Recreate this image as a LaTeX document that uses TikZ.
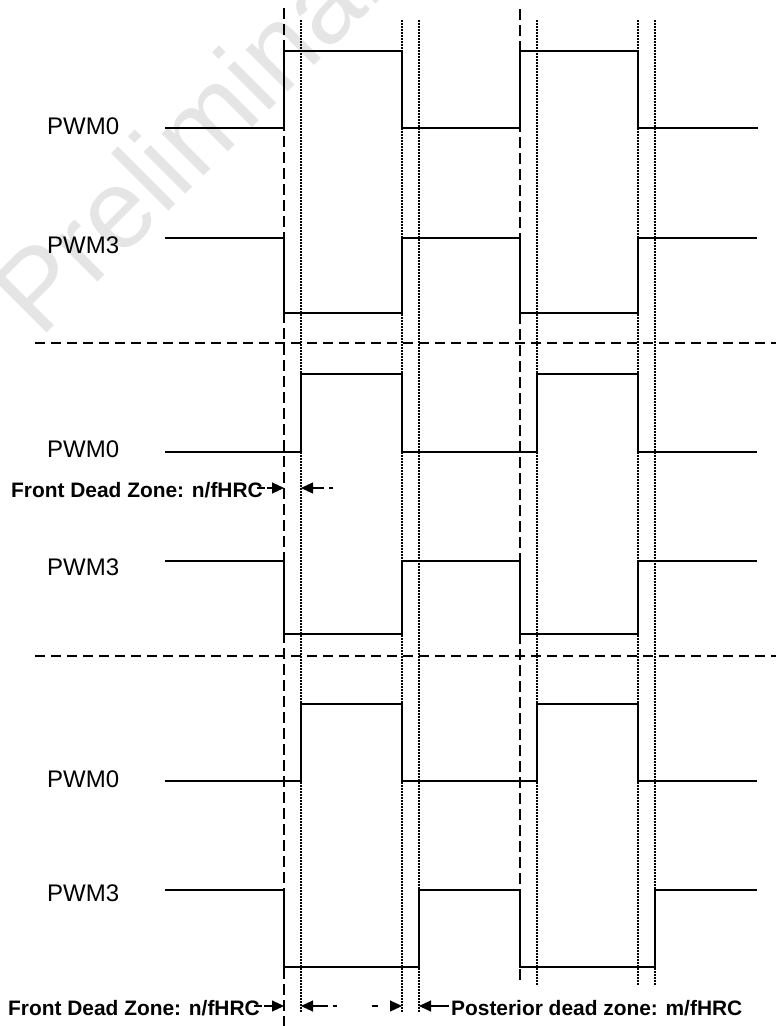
\documentclass[tikz,border=0pt]{standalone}
\usepackage[dvipsnames]{xcolor}
\usepackage{amsmath}
\usepackage{fontspec}
\setmainfont{Liberation Sans}
\usepackage{tikz}
\usetikzlibrary{arrows.meta,positioning,calc}

\begin{document}
\begin{tikzpicture}[x=1pt, y=-1pt,
    every node/.style={inner sep=0pt},
    sig/.style={line width=2.6pt, line join=miter},
    lbl/.style={anchor=west, font=\fontsize{24}{24}\selectfont},
    zone/.style={font=\bfseries\fontsize{20.9}{20.9}\selectfont},
    splitline/.style={line width=1.2pt, dash pattern=on 10pt off 6pt},
    edgeline/.style={line width=1.2pt, dash pattern=on 11pt off 5pt},
    deadline/.style={line width=1.3pt, dash pattern=on 1.5pt off 1.5pt},
    gap/.style={line width=1.1pt, -{Triangle[length=12pt,width=11pt]}}]

    \useasboundingbox (0,0) rectangle (776,1026);

    % Watermark
    \node[rotate=45, anchor=base west, text=black!10, font=\fontsize{112}{112}\selectfont] (mark) at (40,340) {Preliminary};

    % Edges of the PWM period
    \coordinate (e1) at (284,0);
    \coordinate (d1) at (301,0);
    \coordinate (e2) at (402,0);
    \coordinate (d2) at (419,0);
    \coordinate (e3) at (520,0);
    \coordinate (d3) at (537,0);
    \coordinate (e4) at (638,0);
    \coordinate (d4) at (655,0);

    \draw[edgeline] ($(e1)+(0,8)$) -- ($(e1)+(0,1026)$);
    \draw[edgeline] ($(e3)+(0,9)$) -- ($(e3)+(0,985)$);
    \draw[deadline] ($(d1)+(0,20)$) -- ($(d1)+(0,1013)$);
    \draw[deadline] ($(e2)+(0,20)$) -- ($(e2)+(0,1013)$);
    \draw[deadline] ($(d2)+(0,20)$) -- ($(d2)+(0,1013)$);
    \draw[deadline] ($(d3)+(0,20)$) -- ($(d3)+(0,985)$);
    \draw[deadline] ($(e4)+(0,20)$) -- ($(e4)+(0,985)$);
    \draw[deadline] ($(d4)+(0,20)$) -- ($(d4)+(0,985)$);

    % Separators
    \draw[splitline] (35,343) -- (776,343);
    \draw[splitline] (35,656) -- (776,656);

    % No dead zone
    \node[lbl] (pwm0a) at (47,126) {PWM0};
    \node[lbl] (pwm3a) at (47,245) {PWM3};
    \draw[sig] (165,128) -- (284,128) -- (284,51) -- (402,51) -- (402,128) -- (520,128)
        -- (520,51) -- (638,51) -- (638,128) -- (758,128);
    \draw[sig] (165,238) -- (284,238) -- (284,313) -- (402,313) -- (402,238) -- (520,238)
        -- (520,313) -- (638,313) -- (638,238) -- (757,238);

    % Front dead zone
    \node[lbl] (pwm0b) at (47,449) {PWM0};
    \node[lbl] (pwm3b) at (47,567) {PWM3};
    \draw[sig] (165,452) -- (301,452) -- (301,374) -- (402,374) -- (402,452) -- (537,452)
        -- (537,374) -- (638,374) -- (638,452) -- (757,452);
    \draw[sig] (165,561) -- (284,561) -- (284,634) -- (402,634) -- (402,561) -- (520,561)
        -- (520,634) -- (638,634) -- (638,561) -- (757,561);

    \node[zone, anchor=west] (frontb) at (11,490) {Front Dead Zone: n/fHRC};
    \coordinate (fb1) at ($(e1)+(0,488)$);
    \coordinate (fb2) at ($(d1)+(0,488)$);
    \draw[gap, dash pattern=on 8pt off 2pt] (frontb.east |- fb1) ++(-6,0) -- (fb1);
    \draw[gap, dash pattern=on 4pt off 5pt on 30pt] ($(fb2)+(32,0)$) -- (fb2);

    % Front and posterior dead zone
    \node[lbl] (pwm0c) at (47,779) {PWM0};
    \node[lbl] (pwm3c) at (47,893) {PWM3};
    \draw[sig] (165,781) -- (301,781) -- (301,704) -- (402,704) -- (402,781) -- (537,781)
        -- (537,704) -- (638,704) -- (638,781) -- (757,781);
    \draw[sig] (165,890) -- (284,890) -- (284,967) -- (419,967) -- (419,890) -- (520,890)
        -- (520,967) -- (655,967) -- (655,890) -- (757,890);

    \node[zone, anchor=west] (frontc) at (8,1008) {Front Dead Zone: n/fHRC};
    \node[zone, anchor=west] (postc) at (451,1008) {Posterior dead zone: m/fHRC};
    \coordinate (fc1) at ($(e1)+(0,1006)$);
    \coordinate (fc2) at ($(d1)+(0,1006)$);
    \coordinate (pc1) at ($(e2)+(0,1006)$);
    \coordinate (pc2) at ($(d2)+(0,1006)$);
    \draw[gap, dash pattern=on 8pt off 2pt] (frontc.east |- fc1) ++(-6,0) -- (fc1);
    \draw[gap, dash pattern=on 4pt off 5pt on 30pt] ($(fc2)+(36,0)$) -- (fc2);
    \draw[gap, dash pattern=on 6pt off 12pt on 30pt] ($(pc1)-(30,0)$) -- (pc1);
    \draw[gap] (postc.west |- pc2) ++(-2,0) -- (pc2);

\end{tikzpicture}
\end{document}
